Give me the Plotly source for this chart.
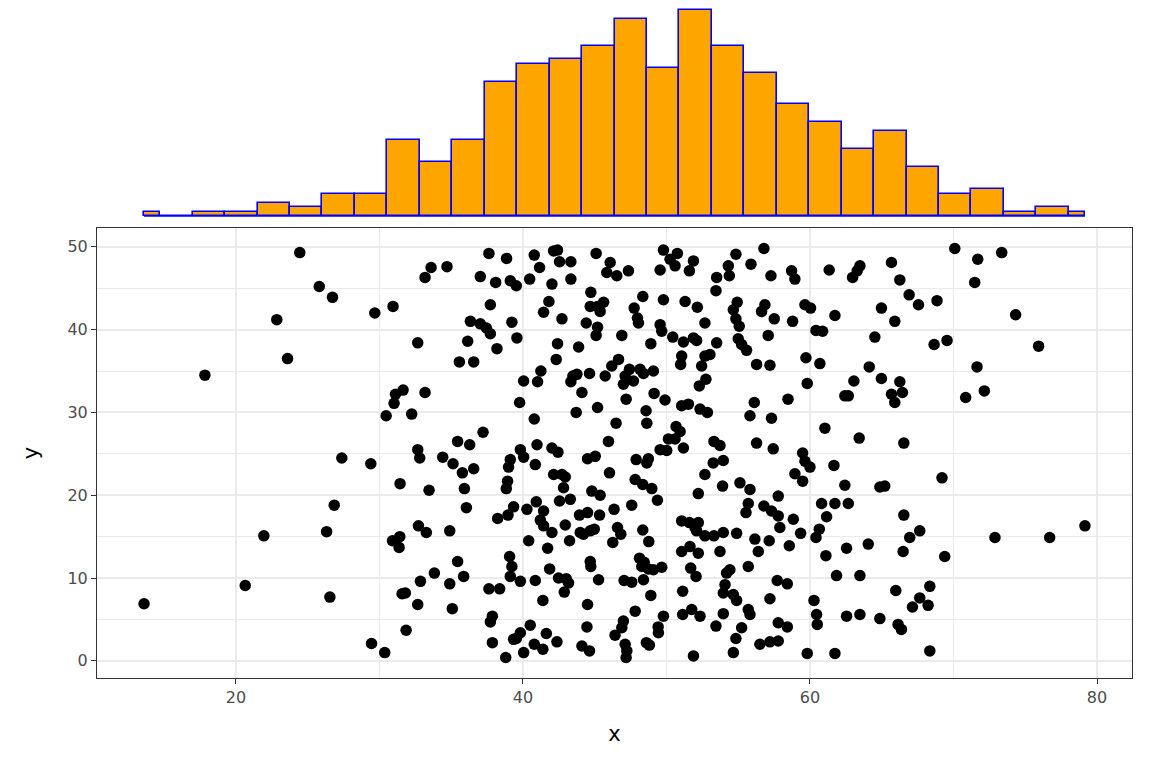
import plotly.graph_objects as go

# ---- data ----
x_values = [
    24.45, 22.85, 23.6, 17.84, 21.95, 20.65, 13.6,
    25.81, 26.73, 29.68, 30.95, 31.65, 31.12, 31.02, 30.47, 32.25, 27.38, 29.4, 31.44, 26.85, 26.32,
    30.91, 31.42, 31.37, 26.55, 31.58, 31.81, 31.86, 29.45, 30.37,
    37.63, 38.86, 33.6, 34.71, 33.18, 37.03, 38.1, 39.12, 37.73, 36.34, 37.03, 37.45, 37.73, 39.23,
    32.67, 36.15, 38.19, 35.57, 36.57, 33.18, 37.22, 35.45, 36.29, 32.67, 32.81, 34.41, 35.13, 35.78,
    36.57, 39.12, 39.0, 38.93, 38.84, 33.46, 35.92, 36.06, 38.24, 38.96, 39.35, 32.72, 33.27, 34.9,
    39.07, 39.23, 39.12, 35.45, 33.83, 32.86, 34.9, 35.87, 37.63, 38.38, 32.67, 35.08, 37.87, 37.73,
    37.87, 39.35, 38.8,
    39.54, 39.58, 40.79, 41.16, 42.14, 42.41, 42.55, 43.34, 40.47, 42.02, 43.34, 45.1, 44.73, 41.81,
    41.44, 42.72, 44.41, 44.69, 45.2, 45.38, 45.62, 45.2, 45.1, 42.41, 42.32, 43.88, 41.25, 41.02,
    40.05, 43.48, 43.76, 43.34, 44.11, 44.64, 39.77, 43.71, 45.2, 40.79, 40.98, 42.02, 42.44, 39.82,
    40.05, 40.86, 42.14, 42.72, 42.95, 42.83, 42.55, 43.3, 44.5, 45.04, 44.8, 45.38, 40.28, 40.93,
    41.44, 41.21, 41.44, 42.02, 42.95, 43.25, 43.99, 43.94, 44.5, 44.69, 44.97, 45.34, 44.22, 40.4,
    41.72, 39.82, 40.86, 41.86, 42.48, 43.02, 43.18, 42.88, 41.39, 44.69, 44.73, 45.27, 44.5, 40.51,
    39.82, 39.54, 41.63, 42.37, 40.79, 41.39, 40.05, 44.11, 44.64, 44.46,
    46.08, 45.84, 46.54, 47.35, 49.79, 50.25, 50.76, 50.6, 49.56, 51.88, 51.6, 48.35, 47.75, 47.98,
    48.05, 49.79, 51.3, 49.56, 49.67, 46.89, 48.91, 50.44, 51.18, 51.88, 51.06, 50.99, 46.66, 46.19,
    45.73, 47.42, 47.12, 47.0, 47.7, 48.16, 48.4, 49.09, 47.19, 49.14, 49.9, 48.58, 48.63, 46.49,
    45.96, 50.67, 50.95, 50.14, 51.18, 49.56, 50.02, 51.06, 51.53, 47.89, 48.74, 48.63, 46.03, 47.82,
    48.35, 48.98, 49.37, 46.35, 47.58, 46.59, 46.82, 46.26, 48.35, 48.77, 51.06, 51.6, 51.99, 51.06,
    51.64, 51.69, 52.06, 47.05, 47.58, 48.12, 48.28, 48.4, 48.74, 49.09, 49.67, 48.91, 51.13, 47.82,
    47.0, 46.89, 46.42, 47.12, 47.24, 48.81, 49.44, 49.79, 49.42, 51.13, 51.76, 51.88, 47.19,
    52.1, 50.6, 48.45, 48.6,
    54.84, 56.79, 54.31, 54.38, 53.5, 53.45, 55.89, 57.28, 52.15, 52.68, 54.93, 54.66, 54.84, 55.07,
    56.86, 56.63, 57.51, 57.09, 53.5, 53.03, 52.68, 52.45, 55.0, 55.24, 55.58, 56.28, 57.21, 52.75,
    52.29, 52.34, 52.85, 56.12, 55.82, 57.32, 53.31, 53.73, 56.28, 57.44, 53.26, 53.96, 52.68, 52.22,
    53.91, 55.12, 55.82, 55.7, 55.54, 56.79, 57.32, 57.79, 57.9, 57.79, 52.22, 52.1, 52.68, 53.31,
    53.96, 54.89, 53.73, 56.16, 57.16, 56.4, 52.22, 54.42, 54.19, 55.7, 57.72, 54.08, 53.96, 54.66,
    54.89, 57.21, 55.7, 55.82, 52.34, 53.96, 53.45, 55.24, 54.84, 54.66, 56.51, 57.21, 57.79, 57.79,
    58.72, 58.95, 61.34, 63.48, 63.29, 62.97, 59.65, 60.04, 61.74, 58.79, 60.42, 60.88, 64.52, 59.72,
    60.69, 64.13, 63.06, 59.81, 58.47, 62.43, 62.67, 61.04, 63.43, 59.49, 59.65, 60.0, 58.95, 59.49,
    61.67, 62.43, 58.84, 59.35, 60.81, 61.74, 62.67, 61.16, 60.65, 60.42, 58.56, 61.11, 62.55, 64.06,
    58.42, 61.85, 63.48, 60.28, 60.46, 60.51, 62.55, 63.48, 58.42, 59.81, 61.74,
    65.68, 66.26, 66.91, 67.56, 68.85, 64.98, 65.91, 70.09, 68.65, 69.55, 64.98, 66.26, 66.44, 65.68,
    65.91, 70.85, 66.54, 64.87, 65.21, 69.2, 66.54, 67.65, 66.95, 66.49, 69.39, 65.98, 67.65, 67.14,
    68.23, 68.35, 64.87, 66.14, 66.37, 68.35,
    71.69, 73.36, 71.48, 74.33, 75.93, 71.64, 72.15, 72.89, 76.7, 79.16,
]

y_values = [
    49.3, 41.2, 36.5, 34.5, 15.1, 9.1, 6.9,
    45.2, 43.9, 42.0, 42.8, 32.7, 32.2, 31.1, 29.6, 29.8, 24.5, 23.8, 21.4, 18.8, 15.6,
    14.5, 15.0, 13.7, 7.7, 8.1, 8.2, 3.7, 2.1, 1.0,
    49.2, 48.6, 47.5, 47.6, 46.3, 46.4, 45.7, 45.9, 43.0, 41.0, 40.7, 40.2, 39.5, 40.9,
    38.4, 38.6, 37.7, 36.1, 36.1, 32.4, 27.6, 26.5, 26.1, 25.5, 24.5, 24.6, 23.8, 22.7,
    23.2, 24.3, 23.4, 21.7, 20.8, 20.6, 20.8, 18.5, 17.2, 17.6, 18.6, 16.3, 15.5, 15.7,
    12.6, 11.4, 10.2, 12.0, 10.6, 9.6, 9.3, 10.2, 8.7, 8.7, 6.8, 6.3, 5.4, 4.7,
    2.2, 2.6, 0.4,
    45.3, 39.0, 49.0, 47.5, 49.5, 49.6, 48.2, 48.2, 46.1, 45.5, 46.1, 49.2, 44.5, 43.4,
    42.1, 41.3, 40.8, 42.8, 42.8, 42.2, 43.3, 40.3, 39.3, 38.3, 36.4, 37.9, 35.0, 33.7,
    33.8, 34.4, 34.6, 33.7, 32.4, 34.7, 31.2, 30.0, 30.6, 29.2, 26.1, 25.7, 25.2, 25.5,
    24.6, 23.7, 22.5, 22.5, 22.2, 20.9, 19.3, 19.5, 24.4, 24.7, 20.5, 20.0, 18.3, 19.2,
    18.1, 17.0, 16.3, 15.5, 16.4, 14.5, 15.5, 17.6, 17.9, 15.7, 15.9, 17.6, 15.3, 14.5,
    13.6, 9.6, 9.7, 11.1, 10.0, 9.9, 9.4, 8.3, 7.3, 12.0, 11.4, 9.8, 6.8, 4.3,
    3.4, 2.7, 3.3, 2.3, 2.0, 1.4, 1.0, 1.8, 1.2, 4.1,
    48.1, 46.9, 46.5, 47.1, 49.6, 48.5, 49.2, 47.7, 47.2, 48.3, 47.1, 44.0, 42.6, 41.4,
    40.8, 43.6, 43.4, 40.6, 39.8, 39.3, 38.3, 39.1, 38.5, 39.0, 36.8, 35.8, 36.4, 35.6,
    34.4, 35.2, 34.4, 33.4, 33.8, 35.2, 34.7, 35.0, 31.6, 32.3, 31.5, 30.2, 28.7, 28.7,
    26.5, 28.3, 27.7, 26.8, 25.7, 25.5, 25.4, 30.8, 31.0, 24.3, 24.4, 23.9, 22.7, 21.9,
    21.3, 20.8, 19.4, 18.3, 18.8, 16.1, 15.3, 14.3, 15.8, 14.4, 16.9, 16.7, 16.1, 13.2,
    13.8, 11.2, 10.2, 9.7, 9.5, 12.4, 11.4, 9.8, 11.1, 11.0, 11.3, 7.9, 8.4, 6.0,
    4.8, 4.0, 3.1, 2.0, 1.2, 1.9, 3.4, 5.4, 4.1, 5.6, 6.2, 0.6, 0.4,
    38.7, 26.8, 11.9, 2.2,
    49.1, 49.8, 47.7, 46.5, 46.3, 44.7, 47.9, 46.5, 42.7, 40.8, 43.3, 42.4, 41.3, 40.4,
    43.0, 42.2, 41.3, 39.3, 38.4, 37.0, 36.8, 35.6, 38.9, 38.2, 37.5, 35.8, 35.7, 34.0,
    33.2, 30.4, 30.0, 31.2, 29.6, 29.3, 26.5, 26.0, 26.3, 25.6, 23.9, 24.2, 22.5, 20.2,
    21.1, 21.5, 20.7, 19.0, 17.9, 18.7, 18.1, 17.5, 16.1, 19.9, 16.7, 15.7, 15.1, 15.1,
    15.5, 15.4, 13.2, 14.7, 14.5, 13.2, 13.0, 11.0, 10.6, 11.4, 9.7, 9.2, 8.2, 8.0,
    7.3, 7.5, 6.2, 5.6, 5.4, 5.7, 4.2, 4.0, 2.7, 1.0, 2.0, 2.3, 2.4, 4.6,
    47.1, 46.1, 47.2, 47.7, 47.1, 46.3, 43.0, 42.6, 41.7, 41.0, 39.9, 39.8, 39.1, 36.6,
    35.9, 35.5, 33.8, 33.5, 31.6, 32.0, 32.0, 28.1, 26.9, 25.1, 24.1, 23.4, 22.6, 21.7,
    23.6, 21.2, 17.1, 15.4, 19.0, 19.0, 19.0, 17.4, 15.9, 14.9, 13.9, 12.7, 13.6, 14.1,
    9.3, 10.3, 10.3, 7.3, 5.6, 4.4, 5.4, 5.6, 4.1, 0.9, 0.9,
    48.1, 46.0, 44.2, 43.0, 43.5, 42.6, 41.0, 49.8, 38.2, 38.7, 34.1, 33.7, 32.4, 32.2,
    31.2, 31.8, 26.3, 21.0, 21.1, 22.1, 17.6, 15.7, 14.9, 13.2, 12.6, 8.5, 7.6, 6.5,
    6.7, 9.0, 5.1, 4.4, 3.8, 1.2,
    48.5, 49.3, 45.7, 41.8, 38.0, 35.5, 32.6, 14.9, 14.9, 16.3,
]

# marginal histogram: 30 bins (counts)
hist_counts = [1, 0, 1, 1, 3, 2, 5, 5, 17, 12, 17, 30, 34, 35, 38,
               44, 33, 46, 38, 32, 25, 21, 15, 19, 11, 5, 6, 1, 2, 1]

x_ticks = [20, 40, 60, 80]
y_ticks = [0, 10, 20, 30, 40, 50]

# ---- derived geometry ----
x_min, x_max = min(x_values), max(x_values)
n_bins = len(hist_counts)
bin_w = (x_max - x_min) / (n_bins - 1)
centers, widths = [], []
for i in range(n_bins):
    left = max(x_min, x_min + (i - 0.5) * bin_w)
    right = min(x_max, x_min + (i + 0.5) * bin_w)
    centers.append((left + right) / 2)
    widths.append(right - left)

x_pad = (x_max - x_min) * 0.05
x_range = [x_min - x_pad, x_max + x_pad]
y_lo, y_hi = min(y_values), max(y_values)
y_pad = (y_hi - y_lo) * 0.05
y_range = [y_lo - y_pad, y_hi + y_pad]
h_max = max(hist_counts)

FONT = "DejaVu Sans"
GRID = "#EBEBEB"

# the page adds an 8 px body margin, so the figure is 8 px smaller
W, H = 1144, 760
PLOT_H = H - 90

fig = go.Figure()
fig.add_trace(go.Scatter(
    x=x_values, y=y_values, mode="markers",
    marker=dict(color="black", size=11.5, line=dict(width=0)),
    xaxis="x", yaxis="y", showlegend=False, hoverinfo="x+y",
))
fig.add_trace(go.Bar(
    x=centers, y=hist_counts, width=widths,
    marker=dict(color="#FFA500", line=dict(color="#0000FF", width=1.6)),
    xaxis="x2", yaxis="y2", showlegend=False,
))
# baseline of the histogram (outline of empty bins)
fig.add_shape(type="line", xref="x2", yref="y2", x0=x_min, x1=x_max, y0=0, y1=0,
              line=dict(color="#0000FF", width=1.6), layer="above")

fig.update_layout(
    width=W, height=H,
    margin=dict(l=89, r=20, t=0, b=90),
    paper_bgcolor="white", plot_bgcolor="white",
    font=dict(family=FONT, color="black"),
    bargap=0,
    xaxis=dict(
        domain=[0, 1], anchor="y", range=x_range,
        tickvals=x_ticks, ticks="outside", ticklen=5, tickwidth=1, tickcolor="#333333",
        tickfont=dict(size=16, color="#4D4D4D"),
        showgrid=True, gridcolor=GRID, gridwidth=1.8,
        minor=dict(dtick=10, tick0=0, showgrid=True, gridcolor=GRID, gridwidth=0.9, ticks=""),
        showline=True, mirror=True, linecolor="#333333", linewidth=1,
        zeroline=False,
        title=dict(text="x", font=dict(size=21, color="black"), standoff=20),
    ),
    yaxis=dict(
        domain=[0, 450 / PLOT_H], anchor="x", range=y_range,
        tickvals=y_ticks, ticks="outside", ticklen=5, tickwidth=1, tickcolor="#333333",
        tickfont=dict(size=16, color="#4D4D4D"),
        showgrid=True, gridcolor=GRID, gridwidth=1.8,
        minor=dict(dtick=5, tick0=0, showgrid=True, gridcolor=GRID, gridwidth=0.9, ticks=""),
        showline=True, mirror=True, linecolor="#333333", linewidth=1,
        zeroline=False,
        title=dict(text="y", font=dict(size=21, color="black"), standoff=23),
    ),
    xaxis2=dict(domain=[0, 1], anchor="y2", range=x_range, visible=False),
    yaxis2=dict(domain=[452 / PLOT_H, 1], anchor="x2",
                range=[-h_max * 0.0485, h_max * 1.0098], visible=False),
)

fig.write_html("out.html")
